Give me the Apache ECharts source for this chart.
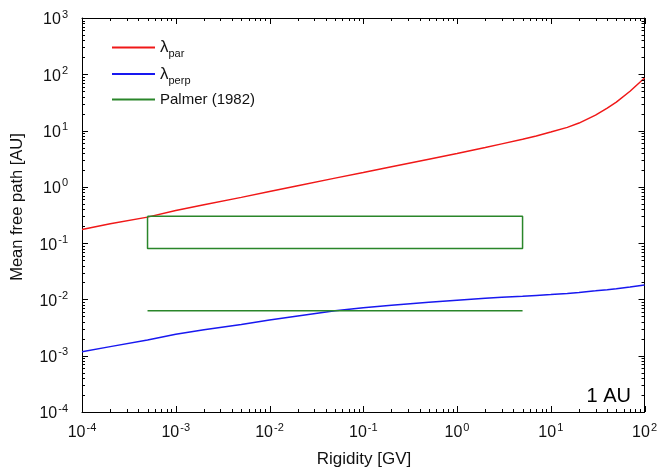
<!DOCTYPE html>
<html>
<head>
<meta charset="utf-8">
<script src="https://cdn.jsdelivr.net/npm/echarts@6/dist/echarts.min.js"></script>
<style>
  html, body { margin: 0; padding: 0; background: #fff; }
  #chart { width: 660px; height: 474px; }
</style>
</head>
<body>
<div id="chart"></div>
<script>
// 数据
var rigidity = [1e-4, 2e-4, 5e-4, 1e-3, 2e-3, 5e-3, 1e-2, 2e-2, 5e-2, 0.1, 0.2, 0.5, 1, 2, 3, 5, 7, 10, 15, 20, 30, 40, 50, 70, 100];
var lambdaPar = [0.175, 0.221, 0.29, 0.38, 0.48, 0.65, 0.83, 1.05, 1.43, 1.8, 2.28, 3.1, 3.9, 5.0, 5.8, 7.0, 8.0, 9.4, 11.4, 13.6, 18.8, 25, 32, 50, 86];
var lambdaPerp = [0.00118, 0.00145, 0.0019, 0.0024, 0.0029, 0.0036, 0.0043, 0.0051, 0.0063, 0.0071, 0.0079, 0.0089, 0.0097, 0.0105, 0.0109, 0.0114, 0.0118, 0.0122, 0.0128, 0.0133, 0.0142, 0.0149, 0.0155, 0.0166, 0.018];
var palmerBoxX = [5e-4, 5, 5, 5e-4, 5e-4];
var palmerBoxY = [0.3, 0.3, 0.08, 0.08, 0.3];
var palmerLineX = [5e-4, 5];
var palmerLineY = [0.0063, 0.0063];
var seriesNames = ['λpar', 'λperp', 'Palmer (1982)'];
var seriesColors = ['#f01818', '#1818f0', '#2a862a'];
var xName = 'Rigidity [GV]';
var yName = 'Mean free path [AU]';
var xExpRange = [-4, 2];
var yExpRange = [-4, 3];

var xMin = Math.pow(10, xExpRange[0]), xMax = Math.pow(10, xExpRange[1]);
var yMin = Math.pow(10, yExpRange[0]), yMax = Math.pow(10, yExpRange[1]);

function zip(xs, ys) {
  return xs.map(function (x, i) { return [x, ys[i]]; });
}
// 对数刻度: [值, 长度]
function logTicks(range) {
  var out = [];
  for (var n = range[0]; n <= range[1]; n++) {
    out.push([Math.pow(10, n), 6]);
    if (n === range[1]) break;
    for (var k = 2; k <= 9; k++) out.push([Number((k * Math.pow(10, n)).toPrecision(6)), 3]);
  }
  return out;
}
// 刻度数据: [x, y, 长度, 方向]
var tickData = logTicks(xExpRange).map(function (t) { return [t[0], yMin, t[1], 0]; })
  .concat(logTicks(yExpRange).map(function (t) { return [xMin, t[0], t[1], 1]; }));

function expLabel(v) {
  var e = Math.round(Math.log10(v));
  return '{b|10}{sup|' + e + '}';
}

var font = 'Liberation Sans';
var labelRich = {
  b: { fontSize: 16, fontFamily: font, color: '#111', lineHeight: 20, verticalAlign: 'bottom' },
  sup: { fontSize: 11, fontFamily: font, color: '#111', lineHeight: 20, verticalAlign: 'top', padding: [1, 0, 0, 1] }
};

function logAxis(type, pos, range, showLabel) {
  return {
    type: 'log',
    logBase: 10,
    min: Math.pow(10, range[0]),
    max: Math.pow(10, range[1]),
    position: pos,
    axisLine: { onZero: false, lineStyle: { color: '#000' } },
    axisTick: { show: false },
    axisLabel: showLabel ? { formatter: expLabel, rich: labelRich, margin: type === 'x' ? 9 : 14 } : { show: false },
    splitLine: { show: false }
  };
}

function tickSeg(x1, y1, x2, y2) {
  return { type: 'line', shape: { x1: x1, y1: y1, x2: x2, y2: y2 }, style: { stroke: '#000', lineWidth: 1 } };
}
// 四边朝内的刻度
function renderTick(params, api) {
  var len = api.value(2);
  if (api.value(3) === 0) {
    var v = api.value(0);
    var pb = api.coord([v, yMin]), pt = api.coord([v, yMax]);
    var x = Math.round(pb[0]) + 0.5;
    return { type: 'group', children: [tickSeg(x, pb[1], x, pb[1] - len), tickSeg(x, pt[1], x, pt[1] + len)] };
  }
  var w = api.value(1);
  var pl = api.coord([xMin, w]), pr = api.coord([xMax, w]);
  var y = Math.round(pl[1]) + 0.5;
  return { type: 'group', children: [tickSeg(pl[0], y, pl[0] + len, y), tickSeg(pr[0], y, pr[0] - len, y)] };
}

var chart = echarts.init(document.getElementById('chart'));
var option = {
  animation: false,
  title: {
    text: '1 AU',
    right: 24,
    top: 381,
    textStyle: { fontFamily: font, fontSize: 20, fontWeight: 'normal', color: '#000' }
  },
  // 轴名称
  graphic: [
    {
      type: 'text',
      x: 364,
      y: 459,
      style: { text: xName, fill: '#111', font: '17px "Liberation Sans"', align: 'center', verticalAlign: 'middle' }
    },
    {
      type: 'text',
      x: 17,
      y: 207,
      rotation: Math.PI / 2,
      style: { text: yName, fill: '#111', font: '16.5px "Liberation Sans"', align: 'center', verticalAlign: 'middle' }
    }
  ],
  grid: { left: 82, right: 15, top: 18, bottom: 62 },
  legend: {
    orient: 'vertical',
    left: 107,
    top: 34,
    itemWidth: 43,
    itemHeight: 2,
    itemGap: 6,
    icon: 'rect',
    data: seriesNames,
    formatter: function (name) {
      if (name.charAt(0) === 'λ') return '{l|λ}{sub|' + name.slice(1) + '}';
      return name;
    },
    textStyle: {
      fontFamily: font,
      fontSize: 15,
      color: '#111',
      rich: {
        l: { fontSize: 17, fontFamily: font, color: '#111', lineHeight: 24, verticalAlign: 'middle' },
        sub: { fontSize: 11, fontFamily: font, color: '#111', lineHeight: 24, verticalAlign: 'bottom' }
      }
    }
  },
  xAxis: [
    logAxis('x', 'bottom', xExpRange, true),
    logAxis('x', 'top', xExpRange, false)
  ],
  yAxis: [
    logAxis('y', 'left', yExpRange, true),
    logAxis('y', 'right', yExpRange, false)
  ],
  series: [
    {
      name: seriesNames[0],
      type: 'line',
      symbol: 'none',
      lineStyle: { color: seriesColors[0], width: 1.5 },
      itemStyle: { color: seriesColors[0] },
      data: zip(rigidity, lambdaPar)
    },
    {
      name: seriesNames[1],
      type: 'line',
      symbol: 'none',
      lineStyle: { color: seriesColors[1], width: 1.5 },
      itemStyle: { color: seriesColors[1] },
      data: zip(rigidity, lambdaPerp)
    },
    {
      name: seriesNames[2],
      type: 'line',
      symbol: 'none',
      lineStyle: { color: seriesColors[2], width: 1.5 },
      itemStyle: { color: seriesColors[2] },
      data: zip(palmerBoxX, palmerBoxY)
    },
    {
      name: seriesNames[2],
      type: 'line',
      symbol: 'none',
      lineStyle: { color: seriesColors[2], width: 1.5 },
      itemStyle: { color: seriesColors[2] },
      data: zip(palmerLineX, palmerLineY)
    },
    {
      name: 'ticks',
      type: 'custom',
      silent: true,
      clip: false,
      z: 5,
      encode: { x: 0, y: 1 },
      renderItem: renderTick,
      data: tickData
    }
  ]
};
chart.setOption(option);
</script>
</body>
</html>
